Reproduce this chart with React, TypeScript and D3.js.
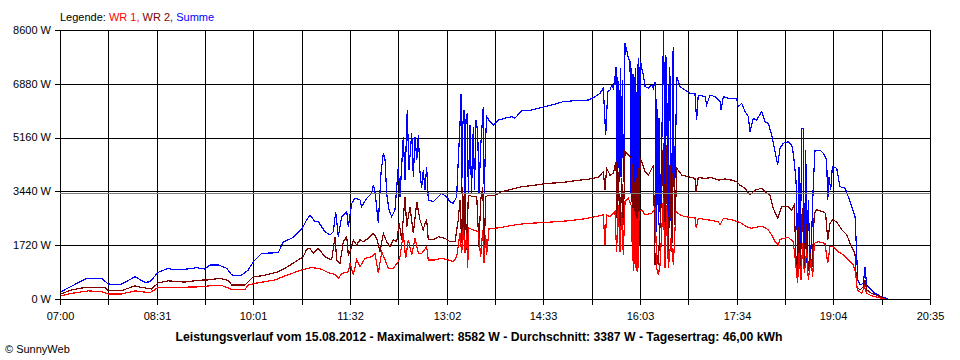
// Leistungsverlauf (SunnyWeb) – WR 1, WR 2 und Summe über den Tag
import React, { useEffect, useRef } from 'react';
import * as d3 from 'd3';

// y-axis ticks in W
const yTicks = [0, 1720, 3440, 5160, 6880, 8600];
// labels under every second vertical grid line
const xTickLabels = ['07:00', '08:31', '10:01', '11:32', '13:02', '14:33', '16:03', '17:34', '19:04', '20:35'];
const dayMinutes = 815; // 07:00 .. 20:35
const average = 3387;

const title = 'Leistungsverlauf vom 15.08.2012 - Maximalwert: 8582 W - Durchschnitt: 3387 W - Tagesertrag: 46,00 kWh';

// [minutes after 07:00, W]
const summe: [number, number][] = [
  [0.7, 230], [25, 660], [39.1, 660], [45.2, 480], [56.2, 450], [70.3, 710], [79.6, 530], [84.3, 550],
  [91.8, 850], [101.2, 980], [107.7, 930], [117.1, 950], [128.1, 1000], [135.8, 960], [140.5, 1090],
  [148.3, 1090], [156.2, 980], [160.8, 770], [168.6, 740], [173.3, 840], [176.4, 930], [181.1, 1190],
  [188.9, 1460], [204.5, 1480], [209.2, 1830], [217.1, 1940], [226.4, 2230], [231.1, 2530], [234.2, 2690],
  [238.9, 2470], [242, 2470], [248.2, 2150], [252.9, 2050], [256, 2150], [258.3, 2790], [260.7, 1990],
  [263.9, 2630], [268.6, 2790], [270.1, 2310], [273.3, 3060], [276.3, 3220], [281, 3170], [282.6, 2950],
  [287.3, 3220], [292, 3380], [293.5, 3640], [295.1, 3430], [298.2, 2420], [300.7, 4020], [302.9, 4660],
  [304.5, 4440], [306, 3380], [308.2, 2850], [310.7, 2630], [313.8, 2850], [316.9, 4230], [318.5, 3270],
  [321.6, 5190], [323.2, 3800], [325.3, 6040], [326.9, 4120], [329.5, 5300], [331, 3910], [332.6, 5190],
  [334.2, 4440], [335.7, 5240], [337.2, 4070], [338.8, 3540], [340.3, 4120], [341.9, 3480], [343.5, 4230],
  [345, 3170], [349.7, 3110], [354.4, 3270], [357.5, 3380], [362.2, 3270], [365.3, 3110], [368.4, 3060],
  [371.6, 3270], [373.1, 4440], [374.7, 5560], [375.6, 6550], [376.3, 3380], [377.2, 5510], [378.5, 6040],
  [379.4, 3170], [380.3, 5720], [381.6, 5940], [382.5, 3380], [384.1, 5560], [385.5, 3400], [387.2, 5510],
  [388.3, 3500], [389.7, 5720], [391.3, 5350], [392.5, 3380], [394.1, 4870], [396.5, 6150], [397.4, 3380],
  [398.8, 5190], [399.7, 5830], [402.8, 5670], [405.9, 5560], [410.6, 5720], [416.9, 5780], [423.2, 5830],
  [426.2, 5780], [432.5, 6020], [441.9, 6040], [451.2, 6120], [460.6, 6200], [471.5, 6310], [482.4, 6340],
  [494.9, 6360], [501.2, 6470], [505.9, 6580], [509, 6740], [511.2, 5240], [513.1, 6630], [515.2, 6680],
  [516.8, 6840], [518.3, 6740], [519.9, 7060], [520.8, 7430], [521.8, 3750], [522.4, 7100], [523, 6740],
  [523.9, 3750], [524.9, 7380], [525.5, 3900], [526.2, 5880], [526.9, 7000], [527.7, 3750], [528.3, 4000],
  [529.3, 8170], [530.9, 7960], [532.4, 7700], [534, 7590], [535, 3400], [535.5, 7380], [536.1, 2600],
  [536.7, 7200], [537.3, 2300], [537.9, 7100], [538.5, 2200], [539.4, 7380], [540.1, 2200], [540.8, 7500],
  [541.3, 2300], [541.8, 7700], [542.3, 2400], [542.8, 3430], [543.4, 7400], [544, 7590], [545, 7380],
  [546.5, 7160], [548.1, 6790], [551.2, 6740], [554.4, 6840], [555.9, 6740], [557.5, 6950], [558.4, 2150],
  [559, 6400], [559.6, 5350], [560.5, 2370], [561.2, 5800], [562.1, 2790], [563.7, 4710], [564.6, 7160],
  [565.5, 8580], [566.8, 3220], [567.5, 7800], [568.4, 7160], [569.2, 2400], [569.9, 2580], [570.7, 7400],
  [571.5, 7060], [572.3, 2500], [573.1, 2690], [573.9, 7600], [574.6, 8070], [575.4, 3000], [576.2, 4070],
  [577.8, 7110], [579.2, 6950], [580.8, 6790], [585.5, 6680], [590.2, 6580], [594.8, 6580], [596.4, 5720],
  [597.9, 6520], [604.2, 6470], [605.8, 6200], [608.9, 6520], [613.6, 6470], [618.3, 6310], [619.2, 6040],
  [621.4, 6470], [626, 6420], [633.9, 6420], [635.4, 6150], [638.6, 6260], [641.7, 5990], [644.8, 5830],
  [646.4, 5350], [649.5, 5780], [652.6, 5720], [657.3, 5990], [660.4, 5670], [663.5, 5620], [666.7, 5240],
  [669.8, 4710], [672.3, 4280], [674.5, 4820], [677.6, 4980], [682.3, 5030], [685.4, 4920], [686.9, 4660],
  [689.2, 3910], [690.1, 3380], [691, 820], [692.3, 4230], [693.5, 1250], [694.8, 5460], [696.3, 5460],
  [697.3, 1030], [698.6, 4760], [699.8, 1140], [701, 3170], [702.6, 1030], [704.2, 2100], [705.7, 3700],
  [707.3, 4760], [712, 4760], [715, 4660], [718.2, 4440], [719.2, 3170], [720.4, 3910], [722, 3480],
  [723.5, 4230], [727.6, 4180], [730.7, 3590], [735.4, 3540], [738.5, 3270], [741.7, 2950], [744.8, 2630],
  [746.3, 1460], [747.3, 610], [749.4, 450], [752.6, 500], [754.1, 1030], [755.7, 450], [758.8, 340],
  [763.5, 180], [769.7, 70], [775.9, 0],
];

const wr2: [number, number][] = [
  [0.7, 160], [11, 290], [23.4, 370], [42.2, 370], [45.2, 270], [57.8, 270], [70.3, 420], [76.5, 370],
  [85.9, 320], [92.1, 520], [101.5, 580], [117.1, 540], [129.6, 600], [138.9, 610], [149.9, 660],
  [157.7, 590], [160.8, 450], [173.3, 450], [176.4, 550], [181.1, 710], [188.9, 740], [204.5, 870],
  [210.8, 980], [223.2, 1250], [227.9, 1350], [231.1, 1590], [234.2, 1620], [237.3, 1460], [242, 1620],
  [248.2, 1350], [254.5, 1250], [257.6, 1990], [259.2, 1250], [262.3, 1140], [265.4, 1830], [268.6, 1990],
  [270.1, 1410], [271.7, 1510], [274.8, 1890], [277.9, 1730], [281, 1890], [284.1, 1830], [288.8, 1940],
  [293.5, 2100], [296.7, 1940], [299.8, 1510], [302.9, 2100], [306, 1830], [309.1, 1670], [312.2, 1890],
  [315.4, 1830], [317.8, 2420], [320, 1890], [323.2, 3270], [324.8, 2310], [327.9, 2950], [331, 2100],
  [334.2, 3110], [337.2, 2530], [340.3, 2210], [341.9, 2420], [343.5, 2530], [345, 1890], [349.7, 1890],
  [354.4, 1990], [360.7, 1940], [365.3, 1830], [370, 1830], [373.1, 2530], [374.7, 3170], [376.3, 1780],
  [377.2, 3590], [378.8, 1670], [379.4, 3380], [381, 1570], [382.5, 3320], [387.2, 3270], [390.4, 3270],
  [392.5, 1670], [394.1, 3170], [396, 3590], [397.5, 1670], [398.8, 3270], [401.2, 3320], [407.5, 3320],
  [413.8, 3430], [420, 3480], [432.5, 3590], [445, 3640], [457.4, 3700], [470, 3720], [482.4, 3780],
  [494.9, 3830], [504.2, 3890], [509, 4070], [510.5, 3480], [512.1, 4180], [515.2, 3960], [518.3, 4020],
  [520.8, 4390], [521.8, 2580], [523, 4070], [524.6, 2150], [526.2, 3860], [527.7, 2370], [529.3, 4710],
  [532.4, 4600], [535.5, 4500], [536.2, 2300], [536.8, 4300], [537.4, 1900], [538.1, 3750], [538.8, 1800],
  [539.4, 4000], [540, 2050], [540.6, 3860], [541.2, 1750], [541.8, 4200], [542.4, 1730], [543.4, 4500],
  [545, 4390], [548.1, 4070], [551.2, 3960], [554.4, 4180], [555.9, 4280], [557.5, 1090], [559.1, 1410],
  [560.5, 1090], [562.1, 2370], [563.7, 3430], [565.2, 4980], [566.8, 1090], [568.4, 4920], [569.9, 1300],
  [571.5, 4280], [573.1, 1510], [574.6, 4500], [576.2, 2370], [577.8, 4180], [582.4, 3960], [588.7, 3910],
  [594.8, 3860], [595.8, 3430], [597.9, 3880], [604.2, 3860], [610.5, 3880], [616.7, 3800], [623, 3840],
  [629.3, 3800], [633.9, 3750], [637, 3640], [641.7, 3540], [646.4, 3320], [651.1, 3480], [657.3, 3540],
  [662, 3380], [665.1, 3320], [668.2, 2900], [672.3, 2580], [676.1, 2950], [682.3, 2950], [685.4, 2850],
  [687.9, 3010], [689.2, 1460], [691, 610], [692.3, 2310], [693.5, 1030], [695.4, 2900], [697.3, 930],
  [698.6, 2530], [700.4, 820], [702.6, 1460], [704.7, 1030], [706.6, 2740], [708.8, 2850], [715, 2790],
  [717.2, 2740], [719.2, 1890], [721.4, 2420], [723.5, 2530], [727.6, 2470], [732.3, 2210], [737, 2050],
  [740.1, 1780], [743.2, 1570], [744.8, 1410], [746.3, 390], [749.4, 290], [752.6, 390], [754.1, 610],
  [755.7, 290], [760.4, 180], [766.6, 100], [772.9, 20],
];

const wr1: [number, number][] = [
  [0.7, 100], [11, 180], [26.5, 260], [39.1, 230], [45.2, 160], [57.8, 160], [70.3, 260], [84.3, 200],
  [92.1, 370], [107.7, 370], [132.7, 390], [142.1, 430], [151.5, 430], [160.8, 310], [173.3, 310],
  [176.4, 450], [182.7, 500], [201.4, 610], [210.8, 740], [226.4, 930], [235.8, 1010], [245.2, 950],
  [251.4, 840], [257.6, 790], [260.7, 660], [263.9, 820], [270.1, 870], [271.7, 1140], [274.8, 770],
  [277.9, 1250], [281, 1030], [285.7, 1300], [292, 1350], [295.1, 1460], [298.2, 820], [301.4, 1510],
  [304.5, 1250], [307.5, 980], [312.2, 980], [316.9, 1190], [318.5, 1350], [321.6, 2100], [323.8, 1300],
  [326.3, 1890], [329.5, 1410], [332.6, 1940], [335.7, 1460], [338.8, 1460], [343.5, 1670], [345, 1250],
  [351.3, 1250], [357.5, 1300], [363.8, 1250], [368.4, 1190], [371.6, 1350], [374.7, 2100], [376.3, 1460],
  [377.8, 2310], [379.4, 1460], [381, 2100], [381.9, 980], [383.1, 2260], [387.2, 2210], [391.9, 2150],
  [394.1, 1350], [396, 2210], [397.2, 1140], [398.8, 2050], [399.7, 1410], [401.9, 2260], [407.5, 2260],
  [416.9, 2310], [426.2, 2370], [438.7, 2420], [451.2, 2440], [463.7, 2470], [476.2, 2500], [488.7, 2550],
  [501.2, 2630], [509, 2690], [510.5, 1730], [512.1, 2690], [515.2, 2630], [519.9, 2790], [521.4, 1510],
  [523, 3010], [524.6, 1510], [526.2, 2790], [527.7, 1410], [529.3, 3110], [532.4, 3220], [535.5, 2950],
  [536.2, 1200], [536.8, 2900], [537.4, 900], [538.1, 2800], [538.8, 1000], [539.4, 2700], [540, 900],
  [540.6, 2600], [541.3, 870], [542.5, 2790], [545, 2850], [548.1, 2690], [554.4, 2740], [557.5, 2900],
  [559.1, 980], [560.5, 770], [562.1, 1090], [565.2, 3220], [566.8, 980], [568.4, 3010], [569.9, 980],
  [572.4, 1940], [574.6, 1090], [576.9, 2790], [580.8, 2690], [585.5, 2630], [594.8, 2600], [596.1, 2260],
  [597.9, 2580], [607.3, 2530], [616.7, 2470], [618.3, 2370], [621.4, 2580], [629.2, 2530], [635.4, 2470],
  [638.6, 2420], [643.3, 2310], [648, 2260], [654.2, 2310], [658.9, 2310], [663.5, 2210], [666.7, 2050],
  [669.8, 1830], [672.9, 1730], [674.5, 1910], [682.3, 1970], [686.9, 1830], [689.2, 1140], [691, 500],
  [692.3, 1460], [694.1, 610], [695.7, 1780], [697.3, 820], [699.5, 1570], [701, 610], [703.5, 1250],
  [705.1, 710], [706.6, 1780], [710.3, 1830], [716.6, 1780], [719.2, 1140], [721.3, 1670], [724.4, 1670],
  [729.1, 1510], [733.8, 1410], [738.5, 1250], [743.2, 1090], [745.4, 820], [746.9, 290], [751, 180],
  [753.5, 390], [755.7, 180], [760.4, 100], [766.6, 50], [772.9, 0],
];

const App = () => {
  const svgRef = useRef<SVGSVGElement>(null);

  useEffect(() => {
    if (!svgRef.current) return;
    const svg = d3.select(svgRef.current);
    svg.selectAll('*').remove();

    const left = 60, right = 930, top = 30, bottom = 299;
    const font = '"Liberation Sans", Arial, sans-serif';

    const x = d3.scaleLinear().domain([0, dayMinutes]).range([left, right]);
    const y = d3.scaleLinear().domain([0, 8600]).range([bottom, top]);
    const px = (v: number) => Math.round(v) + 0.5;

    svg.append('rect').attr('width', 960).attr('height', 360).attr('fill', '#fff');

    // legend
    const legend = svg.append('text')
      .attr('x', 60).attr('y', 21)
      .attr('font-family', font).attr('font-size', 11);
    legend.append('tspan').attr('fill', '#000').text('Legende: ');
    legend.append('tspan').attr('fill', '#ff0000').text('WR 1, ');
    legend.append('tspan').attr('fill', '#800000').text('WR 2, ');
    legend.append('tspan').attr('fill', '#0000ff').text('Summe');

    const grid = svg.append('g').attr('stroke', '#000').attr('shape-rendering', 'crispEdges');

    // horizontal grid + left ticks
    yTicks.forEach(v => {
      grid.append('line')
        .attr('x1', left - 5).attr('x2', right)
        .attr('y1', px(y(v))).attr('y2', px(y(v)));
      svg.append('text')
        .attr('x', 51).attr('y', y(v)).attr('dy', '0.35em')
        .attr('text-anchor', 'end')
        .attr('font-family', font).attr('font-size', 11)
        .text(`${v} W`);
    });

    // vertical grid + bottom ticks, label every second line
    const nLines = (xTickLabels.length - 1) * 2;
    d3.range(nLines + 1).forEach(i => {
      const xv = px(x((i * dayMinutes) / nLines));
      grid.append('line')
        .attr('x1', xv).attr('x2', xv)
        .attr('y1', top).attr('y2', bottom + 6);
      if (i % 2 === 0) {
        svg.append('text')
          .attr('x', xv).attr('y', 320)
          .attr('text-anchor', 'middle')
          .attr('font-family', font).attr('font-size', 11)
          .text(xTickLabels[i / 2]);
      }
    });

    const line = d3.line<[number, number]>()
      .x(d => x(d[0]))
      .y(d => y(d[1]));

    const series: [string, [number, number][]][] = [
      ['#0000ff', summe],
      ['#800000', wr2],
      ['#ff0000', wr1],
    ];
    series.forEach(([color, data]) => {
      svg.append('path')
        .datum(data)
        .attr('d', line)
        .attr('fill', 'none')
        .attr('stroke', color)
        .attr('stroke-width', 1.2)
        .attr('shape-rendering', 'crispEdges');
    });

    // average line
    svg.append('line')
      .attr('x1', left).attr('x2', right)
      .attr('y1', px(y(average))).attr('y2', px(y(average)))
      .attr('stroke', '#808080')
      .attr('shape-rendering', 'crispEdges');

    svg.append('text')
      .attr('x', 479).attr('y', 341)
      .attr('text-anchor', 'middle')
      .attr('font-family', font).attr('font-size', 12).attr('font-weight', 'bold')
      .attr('textLength', 607).attr('lengthAdjust', 'spacingAndGlyphs')
      .text(title);

    svg.append('text')
      .attr('x', 5).attr('y', 353)
      .attr('font-family', font).attr('font-size', 11)
      .text('© SunnyWeb');
  }, []);

  return (
    <svg ref={svgRef} width={960} height={360}
      style={{ position: 'absolute', left: 0, top: 0, display: 'block' }} />
  );
};

export default App;
